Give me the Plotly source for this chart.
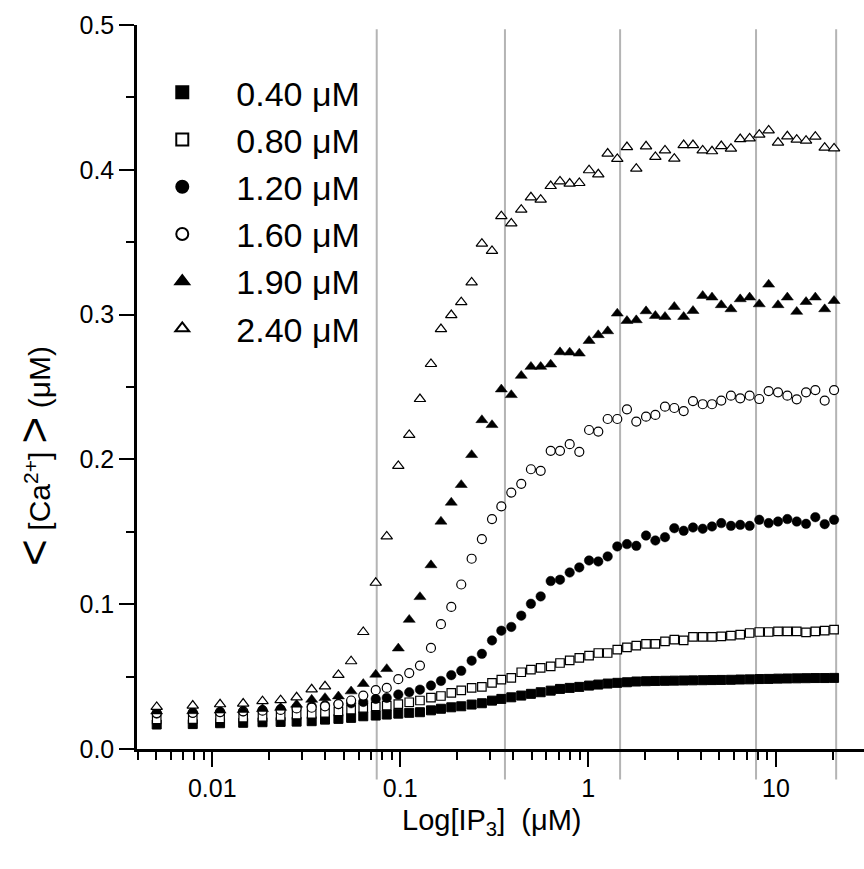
import plotly.graph_objects as go

# ---------------- data ----------------
ip3 = [0.00506, 0.00787, 0.0110, 0.0146, 0.0185, 0.0231, 0.0281, 0.0338, 0.0398, 0.0469,
       0.0548, 0.0636, 0.0741, 0.0848, 0.0977, 0.1117, 0.1274, 0.1458, 0.1648, 0.1870,
       0.2113, 0.2400, 0.2721, 0.3080, 0.3453, 0.3902, 0.4408, 0.4963, 0.5593, 0.6324,
       0.7087, 0.7980, 0.8978, 1.012, 1.133, 1.271, 1.430, 1.610, 1.805, 2.034,
       2.280, 2.566, 2.876, 3.226, 3.616, 4.072, 4.565, 5.114, 5.757, 6.451,
       7.239, 8.147, 9.139, 10.25, 11.49, 12.89, 14.45, 16.19, 18.16, 20.37]

ca_040 = [0.0169, 0.0172, 0.0178, 0.0181, 0.0185, 0.0187, 0.0189, 0.0192, 0.0203, 0.0208,
          0.0215, 0.0226, 0.0231, 0.0238, 0.0244, 0.0250, 0.0254, 0.0267, 0.0278, 0.0288,
          0.0295, 0.0307, 0.0316, 0.0334, 0.0346, 0.0357, 0.0369, 0.0381, 0.0392, 0.0403,
          0.0415, 0.0422, 0.0429, 0.0438, 0.0445, 0.0452, 0.0457, 0.0461, 0.0466, 0.0468,
          0.0470, 0.0471, 0.0472, 0.0473, 0.0474, 0.0475, 0.0476, 0.0477, 0.0478, 0.0480,
          0.0481, 0.0483, 0.0484, 0.0486, 0.0487, 0.0488, 0.0489, 0.0490, 0.0490, 0.0491]

ca_080 = [0.0205, 0.0207, 0.0212, 0.0216, 0.0222, 0.0228, 0.0238, 0.0243, 0.0250, 0.0260,
          0.0272, 0.0284, 0.0295, 0.0300, 0.0310, 0.0323, 0.0335, 0.0355, 0.0366, 0.0388,
          0.0405, 0.0422, 0.0429, 0.0457, 0.0479, 0.0491, 0.0530, 0.0548, 0.0560, 0.0571,
          0.0594, 0.0612, 0.0629, 0.0645, 0.0663, 0.0663, 0.0686, 0.0702, 0.0714, 0.0726,
          0.0726, 0.0743, 0.0755, 0.0750, 0.0774, 0.0774, 0.0774, 0.0778, 0.0783, 0.0790,
          0.0801, 0.0808, 0.0808, 0.0813, 0.0813, 0.0813, 0.0806, 0.0813, 0.0817, 0.0824]

ca_120 = [0.0245, 0.0250, 0.0255, 0.0260, 0.0268, 0.0275, 0.0285, 0.0295, 0.0302, 0.0310,
          0.0316, 0.0325, 0.0346, 0.0353, 0.0376, 0.0392, 0.0410, 0.0438, 0.0470, 0.0510,
          0.0540, 0.0610, 0.0657, 0.0750, 0.0817, 0.0843, 0.0921, 0.1003, 0.1054, 0.1160,
          0.1169, 0.1219, 0.1254, 0.1302, 0.1295, 0.1330, 0.1399, 0.1415, 0.1403, 0.1474,
          0.1440, 0.1463, 0.1525, 0.1507, 0.1530, 0.1521, 0.1537, 0.1560, 0.1541, 0.1548,
          0.1541, 0.1583, 0.1560, 0.1571, 0.1588, 0.1571, 0.1555, 0.1601, 0.1553, 0.1583]

ca_160 = [0.0248, 0.0250, 0.0255, 0.0260, 0.0265, 0.0270, 0.0280, 0.0285, 0.0295, 0.0310,
          0.0335, 0.0369, 0.0406, 0.0422, 0.0482, 0.0524, 0.0576, 0.0698, 0.0862, 0.0981,
          0.1136, 0.1314, 0.1450, 0.1588, 0.1675, 0.1771, 0.1831, 0.1932, 0.1921, 0.2059,
          0.2059, 0.2105, 0.2052, 0.2203, 0.2192, 0.2279, 0.2279, 0.2346, 0.2261, 0.2295,
          0.2307, 0.2364, 0.2355, 0.2334, 0.2403, 0.2381, 0.2381, 0.2406, 0.2440, 0.2422,
          0.2440, 0.2417, 0.2472, 0.2463, 0.2440, 0.2415, 0.2463, 0.2479, 0.2406, 0.2479]

ca_190 = [0.0260, 0.0262, 0.0266, 0.0270, 0.0277, 0.0285, 0.0307, 0.0341, 0.0353, 0.0364,
          0.0399, 0.0450, 0.0514, 0.0553, 0.0695, 0.0893, 0.1050, 0.1270, 0.1571, 0.1702,
          0.1824, 0.2031, 0.2272, 0.2238, 0.2484, 0.2445, 0.2578, 0.2640, 0.2640, 0.2656,
          0.2741, 0.2739, 0.2732, 0.2819, 0.2859, 0.2886, 0.3008, 0.2957, 0.2962, 0.3024,
          0.2992, 0.2985, 0.3054, 0.2985, 0.3026, 0.3130, 0.3119, 0.3066, 0.3038, 0.3107,
          0.3119, 0.3072, 0.3208, 0.3066, 0.3119, 0.3020, 0.3088, 0.3119, 0.3038, 0.3095]

ca_240 = [0.0291, 0.0300, 0.0309, 0.0314, 0.0330, 0.0337, 0.0357, 0.0412, 0.0433, 0.0512,
          0.0606, 0.0808, 0.1148, 0.1468, 0.1955, 0.2169, 0.2417, 0.2659, 0.2900, 0.2997,
          0.3086, 0.3222, 0.3490, 0.3440, 0.3680, 0.3630, 0.3725, 0.3810, 0.3794, 0.3888,
          0.3920, 0.3905, 0.3909, 0.3997, 0.3969, 0.4112, 0.4075, 0.4157, 0.4008, 0.4162,
          0.4089, 0.4134, 0.4077, 0.4171, 0.4171, 0.4134, 0.4128, 0.4164, 0.4146, 0.4212,
          0.4217, 0.4243, 0.4272, 0.4188, 0.4231, 0.4208, 0.4201, 0.4229, 0.4153, 0.4148]

series_names = ["0.40 μM", "0.80 μM", "1.20 μM", "1.60 μM", "1.90 μM", "2.40 μM"]
series_values = [ca_040, ca_080, ca_120, ca_160, ca_190, ca_240]

ref_lines = [0.075, 0.361, 1.48, 7.83, 20.9]

x_tick_vals = [0.01, 0.1, 1, 10]
x_tick_text = ["0.01", "0.1", "1", "10"]
x_minor_vals = [0.004, 0.005, 0.006, 0.007, 0.008, 0.009,
                0.02, 0.03, 0.04, 0.05, 0.06, 0.07, 0.08, 0.09,
                0.2, 0.3, 0.4, 0.5, 0.6, 0.7, 0.8, 0.9,
                2, 3, 4, 5, 6, 7, 8, 9, 20]
y_tick_vals = [0.0, 0.1, 0.2, 0.3, 0.4, 0.5]
y_tick_text = ["0.0", "0.1", "0.2", "0.3", "0.4", "0.5"]

# ---------------- styles ----------------
styles = [
    dict(symbol="square", size=9, color="black", line=dict(color="black", width=1)),
    dict(symbol="square", size=8.5, color="white", line=dict(color="black", width=1.2)),
    dict(symbol="circle", size=9.5, color="black", line=dict(color="black", width=0.5)),
    dict(symbol="circle", size=9, color="white", line=dict(color="black", width=1.2)),
    dict(symbol="triangle-up", size=10.5, color="black", line=dict(color="black", width=0.5)),
    dict(symbol="triangle-up", size=10, color="white", line=dict(color="black", width=1.2)),
]

FONT = "Liberation Sans, Arial, Helvetica, sans-serif"

fig = go.Figure()
for name, vals, st in zip(series_names, series_values, styles):
    fig.add_trace(go.Scatter(x=ip3, y=vals, mode="markers", name=name,
                             marker=st, cliponaxis=False))

for xv in ref_lines:
    fig.add_shape(type="line", xref="x", yref="paper", x0=xv, x1=xv,
                  y0=-0.042, y1=0.994, layer="below",
                  line=dict(color="#b4b4b4", width=2))

fig.update_layout(
    width=864, height=869,
    margin=dict(l=137, r=0, t=24.5, b=119.5),
    paper_bgcolor="white", plot_bgcolor="white",
    font=dict(family=FONT, color="black", size=24),
    showlegend=True,
    legend=dict(x=-0.012, y=0.9465, xanchor="left", yanchor="top",
                bgcolor="rgba(0,0,0,0)", borderwidth=0,
                font=dict(family=FONT, size=34, color="black"),
                itemwidth=98, itemsizing="constant", tracegroupgap=0),
    xaxis=dict(type="log", range=[-2.4007, 1.4683],
               showgrid=False, zeroline=False,
               showline=True, linecolor="black", linewidth=2.5,
               ticks="outside", ticklen=15, tickwidth=2, tickcolor="black",
               tickmode="array", tickvals=x_tick_vals, ticktext=x_tick_text,
               tickfont=dict(family=FONT, size=25, color="black"),
               minor=dict(tickmode="array", tickvals=x_minor_vals, ticks="outside",
                          ticklen=8, tickwidth=2, tickcolor="black", showgrid=False)),
    yaxis=dict(range=[0, 0.5], showgrid=False, zeroline=False,
               showline=True, linecolor="black", linewidth=2.5,
               ticks="outside", ticklen=15, tickwidth=2, tickcolor="black",
               tickmode="array", tickvals=y_tick_vals, ticktext=y_tick_text,
               tickfont=dict(family=FONT, size=25, color="black"),
               minor=dict(dtick=0.05, ticks="outside", ticklen=8, tickwidth=2,
                          tickcolor="black", showgrid=False)),
)

fig.add_annotation(xref="paper", yref="paper", x=0.487, y=-0.1014,
                   text="Log[IP<sub>3</sub>]\u00a0\u00a0(μM)", showarrow=False,
                   font=dict(family=FONT, size=29, color="black"),
                   xanchor="center", yanchor="middle")
fig.add_annotation(xref="paper", yref="paper", x=-0.1415, y=0.405,
                   text="<span style='font-size:46px'>&lt;</span> [Ca<sup>2+</sup>] "
                        "<span style='font-size:46px'>&gt;</span>\u00a0(μM)",
                   showarrow=False, textangle=-90,
                   font=dict(family=FONT, size=30, color="black"),
                   xanchor="center", yanchor="middle")

fig.write_html("out.html")
